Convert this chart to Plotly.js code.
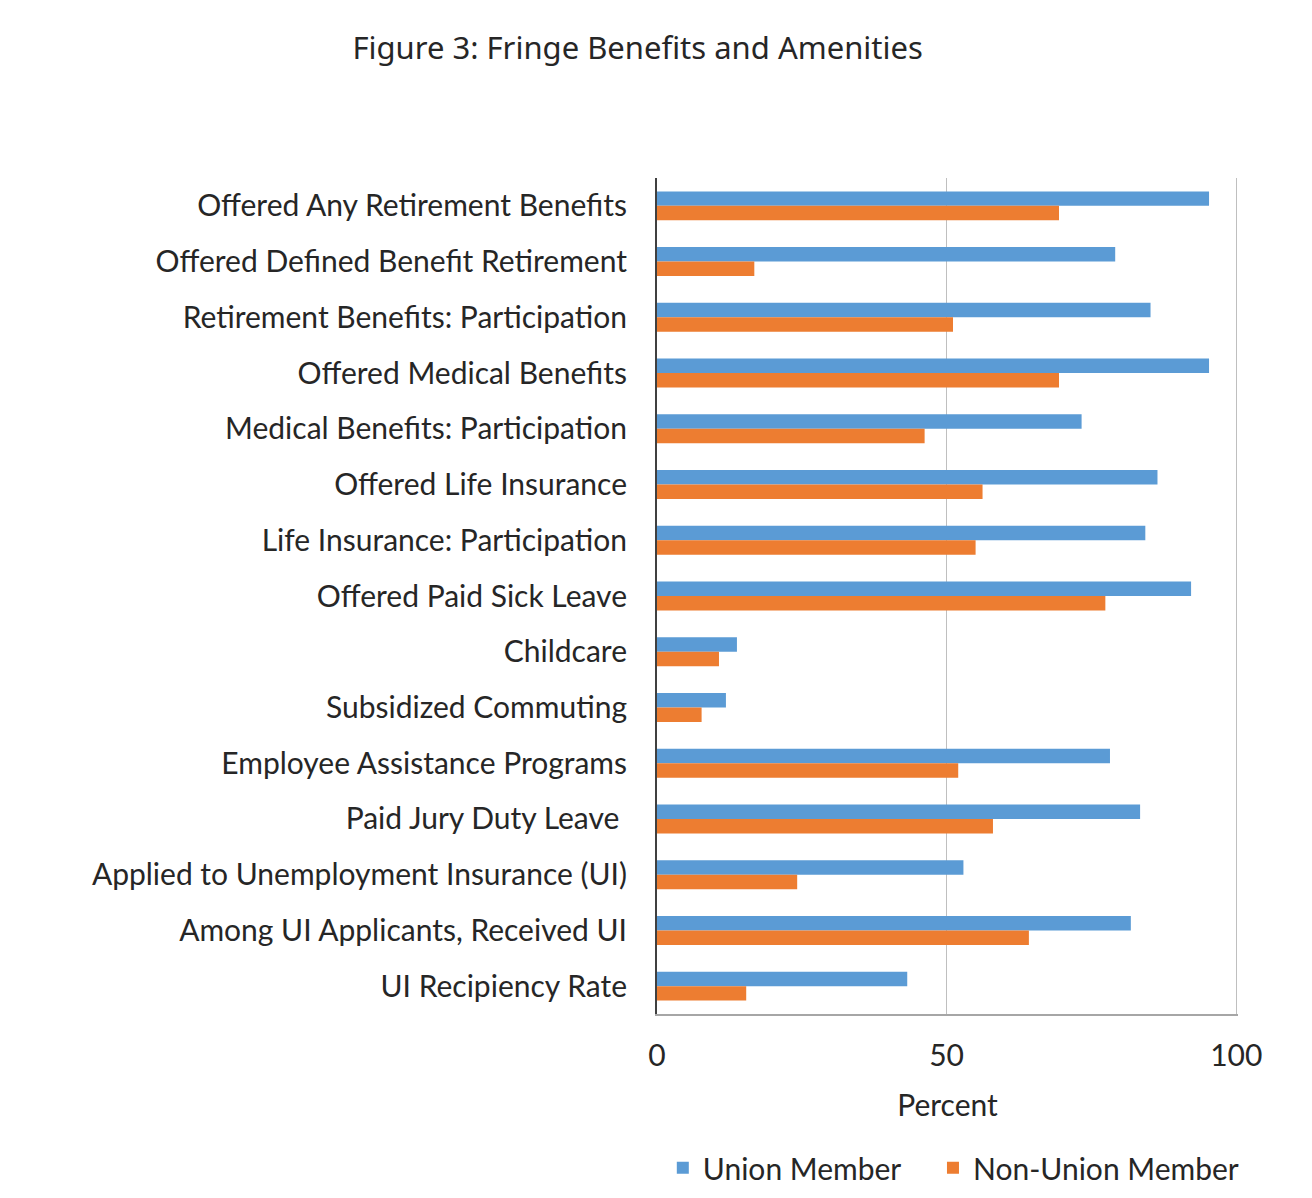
<!DOCTYPE html>
<html>
<head>
<meta charset="utf-8">
<script src="https://cdn.plot.ly/plotly-3.0.1.min.js"></script>
<style>
  html, body { margin: 0; padding: 0; background: #fff; }
  #chart { width: 1312px; height: 1198px; }
</style>
</head>
<body>
<div id="chart"></div>
<script>
// categories, top to bottom
var categories = [
  "Offered Any Retirement Benefits",
  "Offered Defined Benefit Retirement",
  "Retirement Benefits: Participation",
  "Offered Medical Benefits",
  "Medical Benefits: Participation",
  "Offered Life Insurance",
  "Life Insurance: Participation",
  "Offered Paid Sick Leave",
  "Childcare",
  "Subsidized Commuting",
  "Employee Assistance Programs",
  "Paid Jury Duty Leave ",
  "Applied to Unemployment Insurance (UI)",
  "Among UI Applicants, Received UI",
  "UI Recipiency Rate"
];

// percent
var unionMember = [95.3, 79.1, 85.2, 95.3, 73.3, 86.4, 84.3, 92.2, 13.8, 11.9, 78.2, 83.4, 52.9, 81.8, 43.2];
var nonUnionMember = [69.4, 16.8, 51.1, 69.4, 46.2, 56.2, 55.0, 77.4, 10.7, 7.7, 52.0, 58.0, 24.2, 64.2, 15.4];

var xTicks = [0, 50, 100];

var labelFont = { family: "Lato, 'Open Sans', sans-serif", size: 30, color: "#262626" };

var traces = [
  {
    type: "bar",
    orientation: "h",
    name: "Union Member",
    y: categories,
    x: unionMember,
    marker: { color: "#5B9BD5" },
    legend: "legend",
    hoverinfo: "x+y"
  },
  {
    type: "bar",
    orientation: "h",
    name: "Non-Union Member",
    y: categories,
    x: nonUnionMember,
    marker: { color: "#ED7D31" },
    legend: "legend2",
    hoverinfo: "x+y"
  }
];

// one legend per series so each entry sits where the original has it
var legendBase = {
  orientation: "h",
  xanchor: "left",
  y: -0.184,
  yanchor: "middle",
  font: labelFont,
  itemclick: false,
  itemdoubleclick: false
};

var layout = {
  width: 1312,
  height: 1198,
  paper_bgcolor: "#ffffff",
  plot_bgcolor: "#ffffff",
  margin: { l: 657, r: 74, t: 178, b: 184, autoexpand: false },
  barmode: "group",
  bargap: 0.48,
  bargroupgap: 0,
  showlegend: true,
  title: {
    text: "Figure 3: Fringe Benefits and Amenities",
    font: { family: "'Noto Sans', 'Open Sans', sans-serif", size: 31, color: "#262626" },
    xref: "container",
    x: 0.486,
    xanchor: "center",
    yref: "container",
    y: 0.96,
    yanchor: "middle"
  },
  xaxis: {
    // a hair past 100 so the gridline at 100 is still drawn
    range: [0, 100.3],
    tickvals: xTicks,
    ticktext: xTicks.map(String),
    showgrid: true,
    gridcolor: "#BFBFBF",
    gridwidth: 1.5,
    zeroline: false,
    showline: true,
    linecolor: "#A6A6A6",
    linewidth: 1.5,
    ticks: "",
    ticklabelstandoff: 14,
    tickfont: labelFont,
    title: { text: "Percent", font: labelFont, standoff: 24 },
    fixedrange: true
  },
  yaxis: {
    type: "category",
    autorange: "reversed",
    showgrid: false,
    zeroline: false,
    showline: true,
    linecolor: "#404040",
    linewidth: 2,
    ticks: "",
    ticklabelstandoff: 22,
    tickfont: labelFont,
    fixedrange: true
  },
  legend: Object.assign({}, legendBase, { x: 0.01 }),
  legend2: Object.assign({}, legendBase, { x: 0.475 })
};

Plotly.newPlot("chart", traces, layout, { displayModeBar: false, staticPlot: true });
</script>
</body>
</html>
